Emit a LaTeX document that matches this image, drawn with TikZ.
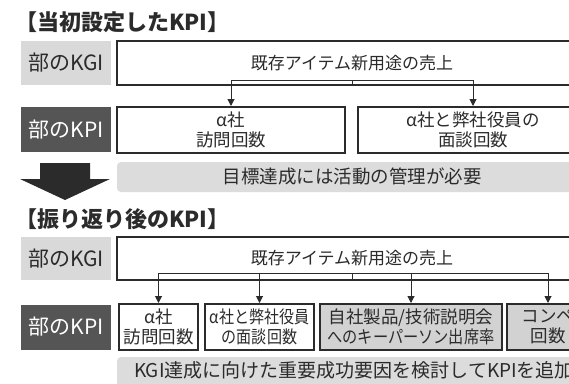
\documentclass[tikz,border=0pt]{standalone}
\usepackage{fontspec}
\setmainfont{Noto Sans CJK JP}
\usetikzlibrary{arrows.meta}
\definecolor{ink}{HTML}{2B2B2B}
\definecolor{lightg}{HTML}{D9D9D9}
\definecolor{darkg}{HTML}{555555}
\definecolor{boxg}{HTML}{D2D2D2}
\definecolor{bang}{HTML}{DCDCDC}
\tikzset{
  lbl/.style={minimum width=90pt, inner sep=0pt, font=\fontsize{21}{24}\selectfont},
  kgilbl/.style={lbl, fill=lightg, text=ink},
  kpilbl/.style={lbl, fill=darkg, text=white},
  kgibox/.style={draw=ink, line width=1.2pt, fill=white, text=ink, inner sep=0pt, font=\fontsize{17}{20}\selectfont},
  kpibox/.style={draw=ink, line width=2pt, fill=white, text=ink, inner sep=0pt, align=center, font=\fontsize{17.5}{20}\selectfont},
  kpigray/.style={kpibox, fill=boxg},
  banner/.style={fill=bang, rounded corners=4pt},
  bantext/.style={text=ink, inner sep=0pt, font=\fontsize{18.5}{21}\selectfont},
  ttl/.style={text=ink, inner sep=0pt, anchor=west, font=\bfseries\fontsize{22}{26}\selectfont},
  conn/.style={draw=ink, line width=1pt},
  arr/.style={conn, -{Triangle[width=7pt,length=7pt]}},
}
\begin{document}
\begin{tikzpicture}[x=1pt,y=-1pt]
\useasboundingbox (0,0) rectangle (569,383);
\clip (0,0) rectangle (569,383);
\fill[white] (0,0) rectangle (569,383);
% ---- top section
\node[ttl] (t1) at (15,22) {【当初設定したKPI】};
\node[kgilbl, minimum height=44pt] (g1l) at (66,63) {部のKGI};
\node[kgibox, minimum width=470pt, minimum height=44pt] (g1) at (352,63) {既存アイテム新用途の売上};
\node[kpilbl, minimum height=45pt] (p1l) at (66,129.5) {部のKPI};
\node[kpibox, minimum width=228pt, minimum height=46pt] (k1) at (231,130) {α社\\訪問回数};
\node[kpibox, minimum width=230pt, minimum height=46pt] (k2) at (473,130) {α社と弊社役員の\\面談回数};
\coordinate (j1) at ([yshift=5pt]g1.south);
\draw[conn] (g1.south) -- (j1);
\draw[arr] (j1) -| (k1.north);
\draw[arr] (j1) -| (k2.north);
\path[banner] (117,162) rectangle (640,192);
\node[bantext] (bt1) at (352,176) {目標達成には活動の管理が必要};
% big arrow
\fill[ink] (40,163) -- (90,163) -- (90,179) -- (110,179) -- (65,200) -- (20,179) -- (40,179) -- cycle;
% ---- bottom section
\node[ttl] (t2) at (15,219) {【振り返り後のKPI】};
\node[kgilbl, minimum height=43pt] (g2l) at (66,258.5) {部のKGI};
\node[kgibox, minimum width=470pt, minimum height=43pt] (g2) at (352,258.5) {既存アイテム新用途の売上};
\node[kpilbl, minimum height=45pt] (p2l) at (66,327) {部のKPI};
\node[kpibox, minimum width=79pt, minimum height=46pt] (b1) at (158.5,327) {α社\\訪問回数};
\node[kpibox, minimum width=109pt, minimum height=46pt] (b2) at (259.5,327) {\scalebox{0.86}[1]{α社と弊社役員}\\\scalebox{0.86}[1]{の面談回数}};
\node[kpigray, minimum width=182pt, minimum height=46pt] (b3) at (411,327) {自社製品/技術説明会\\\scalebox{0.87}[1]{へのキーパーソン出席率}};
\node[kpigray, minimum width=82pt, minimum height=46pt] (b4) at (548,327) {コンペ\\回数};
\coordinate (j2) at ([yshift=7pt]g2.south);
\draw[conn] (g2.south) -- (j2);
\draw[arr] (j2) -| (b1.north);
\draw[arr] (j2) -| (b2.north);
\draw[arr] (j2) -| (b3.north);
\draw[arr] (j2) -| (b4.north);
\path[banner] (117,357) rectangle (640,400);
\node[bantext, font=\fontsize{19}{22}\selectfont] (bt2) at (354,370) {KGI達成に向けた重要成功要因を検討してKPIを追加};
\end{tikzpicture}
\end{document}
